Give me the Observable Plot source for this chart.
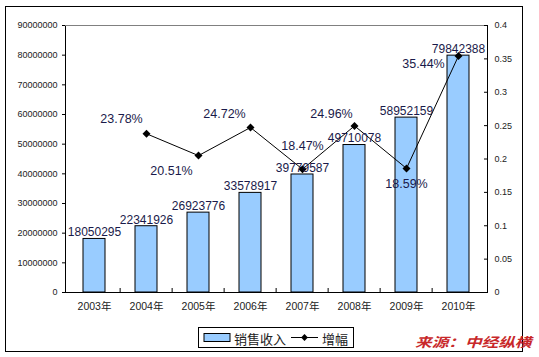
<!DOCTYPE html>
<html>
<head>
<meta charset="utf-8">
<script src="https://cdn.jsdelivr.net/npm/d3@7"></script>
<script src="https://cdn.jsdelivr.net/npm/@observablehq/plot@0.6"></script>
<style>
  html, body { margin: 0; padding: 0; background: #fff; }
  #wrap { position: relative; width: 539px; height: 357px; overflow: hidden; font-family: "Liberation Sans", Arial, sans-serif; }
  #frame { position: absolute; left: 5px; top: 6px; width: 518px; height: 346px; border: 1px solid #000; box-sizing: border-box; }
  #chart { position: absolute; left: 0; top: 0; }
  #legend { position: absolute; left: 198px; top: 327px; width: 156px; height: 21px; border: 1px solid #000; box-sizing: border-box; background: #fff; }
  #legend svg { position: absolute; left: 0; top: 0; }
  #source { position: absolute; left: 415px; top: 334px; font-family: "Noto Sans CJK SC", sans-serif; font-weight: bold; font-style: italic; font-size: 13px; color: #c8282a; white-space: nowrap; line-height: 16px; transform: scaleX(1.28); transform-origin: 0 0; }
</style>
</head>
<body>
<div id="wrap">
  <div id="frame"></div>
  <div id="chart"></div>
  <div id="legend"></div>
  <div id="source">来源：中经纵横</div>
</div>
<script>
const years = ["2003年", "2004年", "2005年", "2006年", "2007年", "2008年", "2009年", "2010年"];
const revenue = [18050295, 22341926, 26923776, 33578917, 39779587, 49710078, 58952159, 79842388];
const growth = [null, 0.2378, 0.2051, 0.2472, 0.1847, 0.2496, 0.1859, 0.3544];
const leftTicks = [0, 10000000, 20000000, 30000000, 40000000, 50000000, 60000000, 70000000, 80000000, 90000000];
const rightTicks = [0, 0.05, 0.1, 0.15, 0.2, 0.25, 0.3, 0.35, 0.4];
const legendLabels = ["销售收入", "增幅"];

const leftMax = leftTicks[leftTicks.length - 1];
const rightMax = rightTicks[rightTicks.length - 1];
const K = leftMax / rightMax;

const bars = years.map((y, i) => ({year: y, value: revenue[i]}));
const pts = years.map((y, i) => ({year: y, g: growth[i]})).filter(d => d.g != null);

// label placement (layout only)
const place = {
  "2004年": [-25, -15], "2005年": [-27, 15], "2006年": [-26, -13],
  "2007年": [0, -23], "2008年": [-23, -12], "2009年": [0, 16], "2010年": [-35, 8]
};

const W = 539, H = 320;
const mL = 65, mR = 52, mT = 25, mB = 28;
const step = (W - mL - mR) / years.length;
const plotH = H - mT - mB;
const font = "Liberation Sans, Arial, sans-serif";
const labelColor = "#1a1a4a";

const pctMarks = Object.entries(place).map(([yr, [dx, dy]]) =>
  Plot.text(pts.filter(d => d.year === yr), {
    x: "year", y: d => d.g * K, text: d => (d.g * 100).toFixed(2) + "%",
    dx, dy, fontSize: 12.5, fontFamily: font, fill: labelColor, textAnchor: "middle", lineAnchor: "middle"
  })
);

const chart = Plot.plot({
  width: W, height: H,
  marginLeft: mL, marginRight: mR, marginTop: mT, marginBottom: mB,
  style: {background: "transparent", fontFamily: font, overflow: "visible"},
  x: {type: "band", domain: years, paddingInner: 0.58, paddingOuter: 0.29, label: null},
  y: {domain: [0, leftMax], nice: false, label: null},
  marks: [
    Plot.barY(bars, {x: "year", y: "value", fill: "#99ccff", stroke: "#000", strokeWidth: 1}),
    Plot.frame({stroke: "#000", strokeWidth: 1}),
    Plot.ruleY([leftMax], {stroke: "#808080", strokeWidth: 1}),
    Plot.ruleX(years.slice(1), {x: d => d, dx: -step / 2, insetTop: plotH - 4, stroke: "#000"}),
    Plot.ruleY(rightTicks.map(v => v * K), {insetLeft: (W - mL - mR) - 3, stroke: "#000"}),
    Plot.axisY({ticks: leftTicks, tickSize: 3, tickPadding: 5, tickFormat: d => String(d), fontSize: 9, fill: "#222", label: null}),
    Plot.axisY({anchor: "right", ticks: rightTicks.map(v => v * K), tickSize: 0, tickPadding: 7,
      tickFormat: d => String(+(d / K).toFixed(2)), fontSize: 9, fill: "#222", label: null}),
    Plot.axisX({tickSize: 0, tickPadding: 10, fontSize: 10.5, fill: "#222", label: null,
      fontFamily: "Liberation Sans, Noto Sans CJK SC, sans-serif"}),
    Plot.line(pts, {x: "year", y: d => d.g * K, stroke: "#000", strokeWidth: 1}),
    Plot.dot(pts, {x: "year", y: d => d.g * K, symbol: "diamond2", r: 3.6, fill: "#000", stroke: "none"}),
    Plot.text(bars, {x: "year", y: "value", text: d => String(d.value), dy: -6.5,
      fontSize: 12, fontFamily: font, fill: labelColor, textAnchor: "middle", lineAnchor: "middle"}),
    ...pctMarks
  ]
});
document.getElementById("chart").appendChild(chart);

// legend
const lg = d3.select("#legend").append("svg").attr("width", 156).attr("height", 21);
lg.append("rect").attr("x", 5).attr("y", 5.5).attr("width", 26).attr("height", 8)
  .attr("fill", "#99ccff").attr("stroke", "#000");
lg.append("text").attr("x", 35).attr("y", 15.5).text(legendLabels[0])
  .attr("font-size", 13).attr("font-family", "Noto Sans CJK SC, sans-serif").attr("fill", "#222");
lg.append("line").attr("x1", 92).attr("x2", 119).attr("y1", 9.5).attr("y2", 9.5).attr("stroke", "#000");
lg.append("path").attr("d", d3.symbol(d3.symbolDiamond2, 30)()).attr("transform", "translate(105.5,9.5)").attr("fill", "#000");
lg.append("text").attr("x", 123).attr("y", 15.5).text(legendLabels[1])
  .attr("font-size", 13).attr("font-family", "Noto Sans CJK SC, sans-serif").attr("fill", "#222");
</script>
</body>
</html>
